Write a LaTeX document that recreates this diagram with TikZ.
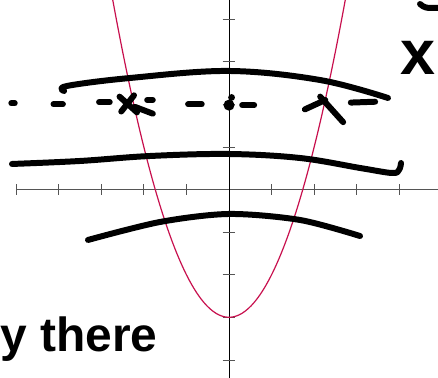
\documentclass[tikz,border=0pt]{standalone}
\usepackage{fontspec}
\setmainfont{Liberation Sans}
\usetikzlibrary{arrows.meta,positioning}
\definecolor{curvered}{HTML}{C8104E}
\definecolor{axisgray}{HTML}{555555}

\begin{document}
\begin{tikzpicture}[
  axis/.style={line width=0.6pt},
  tickmark/.style={line width=0.5pt, draw=axisgray},
  parab/.style={line width=0.8pt, draw=curvered},
  ink/.style={line width=4pt, line cap=round, line join=round},
  dashink/.style={line width=4pt, line cap=round},
  scrawl/.style={inner sep=0pt, anchor=base west}
]
\useasboundingbox[fill=white] (-5.376,-4.425) rectangle (4.906,4.448);

% Axes
\draw[axis, draw=axisgray] (-5,0) -- (4.906,0);
\draw[axis] (0,-4.425) -- (0,4.448);
\foreach \x in {-5,-4,-3,-2,-1,1,2,3,4}
  \draw[tickmark] (\x,-0.12) -- (\x,0.12);
\foreach \y in {-4,-3,-2,-1,1,2,3,4}
  \draw[tickmark] (-0.15,\y) -- (0.15,\y);

% Parabola
\draw[parab] plot[domain=-2.73:2.73, samples=80, smooth] (\x,{\x*\x-3});

% Hand strokes
\draw[ink] plot[smooth, tension=0.6] coordinates
  {(-3.873,2.312) (-3.803,2.430) (-2.324,2.617) (0,2.782) (2.136,2.570) (3.732,2.148)};
\draw[ink] plot[smooth, tension=0.6] coordinates
  {(-5.094,0.599) (-3.498,0.669) (-1.854,0.786) (0,0.833) (1.667,0.739)
   (3.075,0.505) (3.826,0.387) (3.991,0.458) (4.038,0.622)};
\draw[ink] plot[smooth] coordinates
  {(-3.310,-1.185) (-1.620,-0.763) (0,-0.575) (1.667,-0.716) (3.075,-1.092)};

% Dashed line with crosses
\draw[dashink] (-5.11,2.024) -- (-5.03,2.024);
\draw[dashink] (-4.12,2.00) -- (-3.90,2.00);
\draw[dashink] (-3.05,2.05) -- (-2.80,2.05);
\draw[ink] (-2.57,2.18) -- (-2.16,1.81);
\draw[ink] (-2.53,1.83) -- (-2.23,2.21);
\draw[dashink] (-1.92,2.10) -- (-1.79,2.10);
\draw[ink] (-2.21,1.94) -- (-1.79,1.78);
\draw[dashink] (-0.96,2.00) -- (-0.64,2.00);
\fill (0,1.98) circle (0.13);
\fill (0.06,2.16) circle (0.08);
\draw[dashink] (0.31,1.98) -- (0.59,1.98);
\draw[ink] (1.78,1.88) -- (2.26,2.10);
\draw[ink] (2.14,2.18) -- (2.68,1.58);
\draw[dashink] (2.86,2.04) -- (3.43,2.06);

% Scrawled labels
\node[scrawl, font=\bfseries\fontsize{32}{32}\selectfont] (there) at (-5.37,-3.815) {y there};
\node[scrawl, font=\bfseries\fontsize{42}{42}\selectfont] (xlabel) at (4.03,2.688) {x};
\draw[ink] (4.484,4.354) .. controls (4.60,4.26) .. (4.906,4.261);

\end{tikzpicture}
\end{document}
